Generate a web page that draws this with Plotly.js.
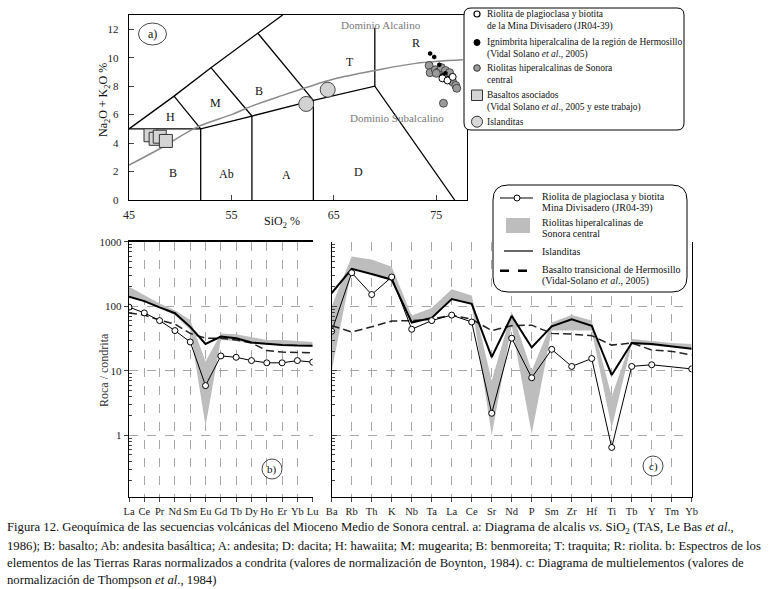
<!DOCTYPE html>
<html><head><meta charset="utf-8">
<script src="https://cdn.plot.ly/plotly-3.0.1.min.js"></script>
<style>html,body{margin:0;padding:0;background:#fff;}#chart{width:775px;height:589px;}</style>
</head><body><div id="chart"></div>
<script>
// ---------- Panel a: TAS diagram data ----------
const basaltSiO2 = [47.1, 47.6, 48.0, 48.6];
const basaltAlk  = [4.55, 4.3, 4.45, 4.15];
const islSiO2 = [62.3, 64.4];
const islAlk  = [6.75, 7.75];
const rhySiO2 = [74.3, 74.4, 74.9, 75.2, 75.5, 75.9, 76.3, 75.0, 76.6, 76.9, 77.0, 75.7];
const rhyAlk  = [9.45, 8.95, 9.15, 9.0, 9.3, 9.1, 8.95, 8.9, 8.3, 8.05, 7.85, 6.8];
const ignSiO2 = [74.4, 74.8, 75.3, 75.6, 76.1, 75.9];
const ignAlk  = [10.3, 10.05, 9.5, 8.75, 8.55, 8.9];
const jrSiO2 = [75.6, 76.1, 76.6];
const jrAlk  = [8.55, 8.4, 8.65];
// TAS field boundaries (Le Bas et al., 1986), null separates segments
const tasX = [45, 49.4, 53, 57.6, 60.0, null,
              45, 52, 57, 63, 69, 76.8, null,
              52, 52, null, 57, 57, null, 63, 63, null,
              49.4, 52, null, 53, 57, null, 57.6, 63, null, 69, 69];
const tasY = [5, 7.3, 9.3, 11.7, 13, null,
              5, 5, 5.9, 7, 8, 0, null,
              0, 5, null, 0, 5.9, null, 0, 7, null,
              7.3, 5, null, 9.3, 5.9, null, 11.7, 7, null, 8, 12.1];
// alkaline / subalkaline dividing curve
const divX = [45, 48, 51.6, 55, 57, 60, 62.3, 65, 69, 73, 77.6];
const divY = [2.45, 3.6, 5.1, 6.0, 6.6, 7.35, 7.9, 8.5, 9.1, 9.6, 9.85];

// ---------- Panel b: REE / chondrite ----------
const reeCats  = ['La','Ce','Pr','Nd','Sm','Eu','Gd','Tb','Dy','Ho','Er','Yb','Lu'];
const reeJR    = [97, 79, 60, 42, 28, 5.9, 17, 16.2, 14.4, 13.3, 13.3, 14.4, 13.6];
const reeIsl   = [141, 120, 96, 78, 48, 26, 34, 32, 27.4, 26, 25, 24.6, 24.5];
const reeBas   = [79, 73, 61, 53, 38, 32, 32, 30, 27, 20.6, 19.5, 19.5, 19];
const reeUpper = [200, 150, 110, 87, 61, 14, 38, 37, 33, 30, 30, 29, 28];
const reeLower = [141, 118, 93, 73, 43, 1.4, 30, 29, 27, 25, 25, 24, 23.5];

// ---------- Panel c: multielement ----------
const spCats  = ['Ba','Rb','Th','K','Nb','Ta','La','Ce','Sr','Nd','P','Sm','Zr','Hf','Ti','Tb','Y','Tm','Yb'];
const spJR    = [41, 330, 152, 284, 44, 60, 73, 57, 2.2, 32, 7.8, 21.5, 11.7, 15.5, 0.65, 11.7, 12.4, null, 10.7];
const spIsl   = [160, 380, 316, 258, 56, 66, 129, 109, 16.3, 71, 23, 49, 63, 50, 8.6, 27, 26, 24, 22];
const spBas   = [50, 40, 48, 59, 60, 63, 73, 63, 42, 50, 51, 38, 37, 35, 25, 27, 21, 20, 17.6];
const spUpper = [100, 590, 530, 410, 72, 94, 183, 147, 7, 83, 10, 56, 73, 60, 4, 31, 29, 27, 26];
const spLower = [10, 370, 330, 250, 56, 63, 130, 107, 1.0, 50, 1.05, 42, 42, 42, 1.3, 26, 24.6, 23, 21.5];

const logTicks = [1, 10, 100, 1000];
const minorTicks = [0.2,0.3,0.4,0.5,0.6,0.7,0.8,0.9,2,3,4,5,6,7,8,9,20,30,40,50,60,70,80,90,200,300,400,500,600,700,800,900];

const F = '"Liberation Serif", "Times New Roman", serif';
const W = 775, H = 589;
const px = x => x / W;
const py = y => 1 - y / H;

const traces = [
  // Panel a
  {x: tasX, y: tasY, xaxis:'x', yaxis:'y', mode:'lines', line:{color:'#000', width:1.3}, connectgaps:false, hoverinfo:'skip'},
  {x: divX, y: divY, xaxis:'x', yaxis:'y', mode:'lines', line:{color:'#8a8a8a', width:1.5, shape:'spline'}, hoverinfo:'skip'},
  {x: basaltSiO2, y: basaltAlk, xaxis:'x', yaxis:'y', mode:'markers', marker:{symbol:'square', size:13, color:'#d4d4d4', line:{color:'#333', width:1}}},
  {x: islSiO2, y: islAlk, xaxis:'x', yaxis:'y', mode:'markers', marker:{symbol:'circle', size:15, color:'#d2d2d2', line:{color:'#444', width:1}}},
  {x: rhySiO2, y: rhyAlk, xaxis:'x', yaxis:'y', mode:'markers', marker:{symbol:'circle', size:8, color:'#9a9a9a', line:{color:'#333', width:0.8}}},
  {x: ignSiO2, y: ignAlk, xaxis:'x', yaxis:'y', mode:'markers', marker:{symbol:'hexagon', size:5, color:'#000'}},
  {x: jrSiO2, y: jrAlk, xaxis:'x', yaxis:'y', mode:'markers', marker:{symbol:'circle', size:7, color:'#fff', line:{color:'#000', width:1}}},
  // Panel b
  {x: reeCats, y: reeLower, xaxis:'x2', yaxis:'y2', mode:'lines', line:{width:0, color:'#bdbdbd'}, hoverinfo:'skip'},
  {x: reeCats, y: reeUpper, xaxis:'x2', yaxis:'y2', mode:'lines', line:{width:0, color:'#bdbdbd'}, fill:'tonexty', fillcolor:'#bdbdbd'},
  {x: reeCats, y: reeBas, xaxis:'x2', yaxis:'y2', mode:'lines', line:{color:'#222', width:1.5, dash:'8px,4px'}},
  {x: reeCats, y: reeIsl, xaxis:'x2', yaxis:'y2', mode:'lines', line:{color:'#000', width:2}},
  {x: reeCats, y: reeJR, xaxis:'x2', yaxis:'y2', mode:'lines+markers', line:{color:'#000', width:1}, marker:{symbol:'circle', size:6, color:'#fff', line:{color:'#000', width:1}}},
  // Panel c
  {x: spCats, y: spLower, xaxis:'x3', yaxis:'y3', mode:'lines', line:{width:0, color:'#bdbdbd'}, hoverinfo:'skip'},
  {x: spCats, y: spUpper, xaxis:'x3', yaxis:'y3', mode:'lines', line:{width:0, color:'#bdbdbd'}, fill:'tonexty', fillcolor:'#bdbdbd'},
  {x: spCats, y: spBas, xaxis:'x3', yaxis:'y3', mode:'lines', line:{color:'#222', width:1.5, dash:'8px,4px'}},
  {x: spCats, y: spIsl, xaxis:'x3', yaxis:'y3', mode:'lines', line:{color:'#000', width:2}},
  {x: spCats, y: spJR, xaxis:'x3', yaxis:'y3', mode:'lines+markers', connectgaps:true, line:{color:'#000', width:1}, marker:{symbol:'circle', size:6, color:'#fff', line:{color:'#000', width:1}}}
];

function rr(x0, y0, x1, y1, r) {
  return `M ${px(x0+r)} ${py(y0)} L ${px(x1-r)} ${py(y0)} Q ${px(x1)} ${py(y0)} ${px(x1)} ${py(y0+r)} ` +
         `L ${px(x1)} ${py(y1-r)} Q ${px(x1)} ${py(y1)} ${px(x1-r)} ${py(y1)} ` +
         `L ${px(x0+r)} ${py(y1)} Q ${px(x0)} ${py(y1)} ${px(x0)} ${py(y1-r)} ` +
         `L ${px(x0)} ${py(y0+r)} Q ${px(x0)} ${py(y0)} ${px(x0+r)} ${py(y0)} Z`;
}
function circ(cx, cy, rx, ry, fill, lc, lw) {
  return {type:'circle', xref:'paper', yref:'paper', layer:'above',
    x0:px(cx-rx), x1:px(cx+rx), y0:py(cy+ry), y1:py(cy-ry),
    fillcolor:fill, line:{color:lc, width:lw}};
}
function rect(x0, y0, x1, y1, fill, lc, lw) {
  return {type:'rect', xref:'paper', yref:'paper', layer:'above',
    x0:px(x0), x1:px(x1), y0:py(y1), y1:py(y0), fillcolor:fill, line:{color:lc, width:lw}};
}
function hline(x0, x1, y, w, dash) {
  return {type:'line', xref:'paper', yref:'paper', layer:'above',
    x0:px(x0), x1:px(x1), y0:py(y), y1:py(y), line:{color:'#000', width:w, dash:dash||'solid'}};
}
function txt(x, y, text, o) {
  return Object.assign({xref:'paper', yref:'paper', x:px(x), y:py(y), text:text, showarrow:false,
    xanchor:'left', yanchor:'middle', font:{family:F, size:10, color:'#111'}}, o || {});
}
function dtxt(x, y, text, o) {
  return Object.assign({xref:'x', yref:'y', x:x, y:y, text:text, showarrow:false,
    xanchor:'center', yanchor:'middle', font:{family:F, size:12, color:'#111'}}, o || {});
}

const shapes = [
  // legend a
  {type:'path', xref:'paper', yref:'paper', layer:'above', path: rr(464, 8, 684, 130, 7), fillcolor:'#fff', line:{color:'#000', width:1}},
  circ(477, 14, 3, 3, '#fff', '#000', 1.2),
  circ(477, 42.5, 3, 3, '#000', '#000', 1),
  circ(477, 68, 3.3, 3.3, '#9a9a9a', '#333', 1),
  rect(471.5, 90, 482.5, 100.5, '#d4d4d4', '#333', 1),
  circ(477, 121.7, 5.5, 5.5, '#d8d8d8', '#333', 1),
  // legend c
  {type:'path', xref:'paper', yref:'paper', layer:'above', path: rr(493, 185, 687, 292, 15), fillcolor:'#fff', line:{color:'#000', width:1}},
  hline(500, 533, 198, 1),
  circ(517, 198, 3, 3, '#fff', '#000', 1),
  rect(506, 218, 530, 233, '#bdbdbd', '#bdbdbd', 0),
  hline(504, 533, 251, 1.2),
  hline(500, 533, 270.7, 2.5, 'dash'),
  // circled panel labels
  circ(152.5, 34, 14, 11, 'rgba(0,0,0,0)', '#333', 0.9),
  circ(272, 469, 10, 10, 'rgba(0,0,0,0)', '#333', 0.9),
  circ(653, 466, 10, 10, 'rgba(0,0,0,0)', '#333', 0.9)
];

const annotations = [
  // panel a region labels
  dtxt(49.1, 5.85, 'H'), dtxt(53.4, 6.8, 'M'), dtxt(57.7, 7.65, 'B'), dtxt(66.6, 9.7, 'T'),
  dtxt(73.0, 11.0, 'R'), dtxt(49.3, 1.9, 'B'), dtxt(54.5, 1.8, 'Ab'), dtxt(60.4, 1.75, 'A'), dtxt(67.4, 2.0, 'D'),
  dtxt(69.6, 12.3, 'Dominio Alcalino', {font:{family:F, size:11, color:'#7a7a7a'}}),
  dtxt(71.2, 5.75, 'Dominio Subalcalino', {font:{family:F, size:11, color:'#7a7a7a'}}),
  txt(152.5, 34, 'a)', {xanchor:'center', font:{family:F, size:12, color:'#111'}}),
  txt(272, 469, 'b)', {xanchor:'center', font:{family:F, size:11, color:'#111'}}),
  txt(653, 466, 'c)', {xanchor:'center', font:{family:F, size:11, color:'#111'}}),
  // axis titles
  txt(104, 100, 'Na<sub>2</sub>O + K<sub>2</sub>O %', {xanchor:'center', textangle:-90, font:{family:F, size:12, color:'#111'}}),
  txt(282, 222, 'SiO<sub>2</sub> %', {xanchor:'center', font:{family:F, size:12, color:'#111'}}),
  txt(104, 370, 'Roca / condrita', {xanchor:'center', textangle:-90, font:{family:F, size:12, color:'#333'}}),
  // legend a text
  txt(485, 14, 'Riolita de plagioclasa y biotita', {font:{family:F, size:9.5, color:'#111'}}),
  txt(485, 27, 'de la Mina Divisadero (JR04-39)', {font:{family:F, size:9.5, color:'#111'}}),
  txt(485, 42.5, 'Ignimbrita hiperalcalina de la región de Hermosillo', {font:{family:F, size:9.5, color:'#111'}}),
  txt(485, 55, '(Vidal Solano <i>et al</i>., 2005)', {font:{family:F, size:9.5, color:'#111'}}),
  txt(485, 68, 'Riolitas hiperalcalinas de Sonora', {font:{family:F, size:9.5, color:'#111'}}),
  txt(485, 80, 'central', {font:{family:F, size:9.5, color:'#111'}}),
  txt(485, 95, 'Basaltos asociados', {font:{family:F, size:9.5, color:'#111'}}),
  txt(485, 107.5, '(Vidal Solano <i>et al</i>., 2005 y este trabajo)', {font:{family:F, size:9.5, color:'#111'}}),
  txt(485, 121.7, 'Islanditas', {font:{family:F, size:9.5, color:'#111'}}),
  // legend c text
  txt(540, 196.5, 'Riolita de plagioclasa y biotita', {font:{family:F, size:10, color:'#111'}}),
  txt(540, 207.5, 'Mina Divisadero (JR04-39)', {font:{family:F, size:10, color:'#111'}}),
  txt(540, 222.5, 'Riolitas hiperalcalinas de', {font:{family:F, size:10, color:'#111'}}),
  txt(540, 233, 'Sonora central', {font:{family:F, size:10, color:'#111'}}),
  txt(540, 251, 'Islanditas', {font:{family:F, size:10, color:'#111'}}),
  txt(540, 269.5, 'Basalto transicional de Hermosillo', {font:{family:F, size:10, color:'#111'}}),
  txt(540, 280.5, '(Vidal-Solano <i>et al</i>., 2005)', {font:{family:F, size:10, color:'#111'}}),
  // caption
  txt(5, 528, 'Figura 12. Geoquímica de las secuencias volcánicas del Mioceno Medio de Sonora central. a: Diagrama de alcalis <i>vs.</i> SiO<sub>2</sub> (TAS, Le Bas <i>et al</i>.,', {font:{family:F, size:12.7, color:'#111'}}),
  txt(5, 546, '1986); B: basalto; Ab: andesita basáltica; A: andesita; D: dacita; H: hawaiita; M: mugearita; B: benmoreita; T: traquita; R: riolita. b: Espectros de los', {font:{family:F, size:12.7, color:'#111'}}),
  txt(5, 563, 'elementos de las Tierras Raras normalizados a condrita (valores de normalización de Boynton, 1984). c: Diagrama de multielementos (valores de', {font:{family:F, size:12.7, color:'#111'}}),
  txt(5, 580, 'normalización de Thompson <i>et al</i>., 1984)', {font:{family:F, size:12.7, color:'#111'}})
];

const tickFont = {family:F, size:10.5, color:'#222'};
const layout = {
  width: W, height: H, margin:{l:0, r:0, t:0, b:0},
  paper_bgcolor:'#fff', plot_bgcolor:'rgba(0,0,0,0)',
  showlegend:false, hovermode:false,
  font:{family:F, color:'#111'},
  xaxis:{domain:[px(129), px(467)], range:[45, 78], anchor:'y', tickvals:[45,55,65,75],
    ticks:'inside', ticklen:5, showline:true, mirror:true, linecolor:'#000', linewidth:1.2,
    showgrid:false, zeroline:false, tickfont:{family:F, size:12, color:'#222'}, ticklabelstandoff:3},
  yaxis:{domain:[py(200), py(15)], range:[0, 13], anchor:'x', tickvals:[0,2,4,6,8,10,12],
    ticks:'inside', ticklen:5, showline:true, mirror:true, linecolor:'#000', linewidth:1.2,
    showgrid:false, zeroline:false, tickfont:{family:F, size:11, color:'#222'}, ticklabelstandoff:7},
  xaxis2:{domain:[px(129), px(312.7)], type:'category', range:[0, 12], anchor:'y2', tickangle:0,
    ticks:'outside', ticklen:4, showline:true, mirror:true, linecolor:'#000', linewidth:1.5,
    showgrid:true, gridcolor:'#a8a8a8', griddash:'dash', gridwidth:1, tickfont:tickFont},
  yaxis2:{domain:[py(496.7), py(241.7)], type:'log', range:[-0.95, 3], anchor:'x2',
    tickvals:logTicks, ticktext:['1','10','100','1000'], ticks:'outside', ticklen:4,
    minor:{tickvals:minorTicks, ticks:'inside', ticklen:3, showgrid:false},
    showline:true, linecolor:'#000', linewidth:1.2, showgrid:true, gridcolor:'#a8a8a8', griddash:'dash',
    zeroline:false, tickfont:{family:F, size:11, color:'#222'}},
  xaxis3:{domain:[px(331.7), px(691.7)], type:'category', range:[0, 18], anchor:'y3', tickangle:0,
    ticks:'outside', ticklen:4, showline:true, linecolor:'#000', linewidth:1.5,
    showgrid:true, gridcolor:'#a8a8a8', griddash:'dash', gridwidth:1, tickfont:tickFont},
  yaxis3:{domain:[py(496.7), py(241.7)], type:'log', range:[-0.95, 3], anchor:'x3',
    tickvals:logTicks, showticklabels:false, ticks:'inside', ticklen:5,
    minor:{tickvals:minorTicks, ticks:'inside', ticklen:3, showgrid:false},
    showline:true, mirror:true, linecolor:'#000', linewidth:1.2, showgrid:true, gridcolor:'#a8a8a8', griddash:'dash',
    zeroline:false},
  shapes: shapes,
  annotations: annotations
};

Plotly.newPlot('chart', traces, layout, {staticPlot:true, displayModeBar:false});
</script>
</body></html>
